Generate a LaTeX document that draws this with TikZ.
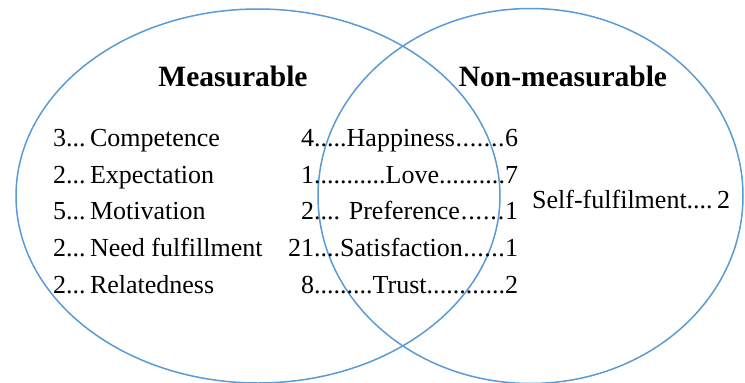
\documentclass[tikz,border=0pt]{standalone}
\usepackage{fontspec}
\setmainfont{Liberation Serif}
\definecolor{vblue}{RGB}{91,155,213}
\newcommand{\dotrow}[3]{\hbox to 204pt{\llap{#1}#2\xleaders\hbox{.}\hfill #3}}
\begin{document}
\begin{tikzpicture}[x=1pt,y=1pt,
  circ/.style={draw=vblue, line width=1.5pt},
  head/.style={font=\fontsize{29.5}{33}\selectfont\bfseries, inner sep=0pt, anchor=base},
  item/.style={font=\fontsize{26}{30}\selectfont, inner sep=0pt, anchor=base west}]
\useasboundingbox (0,0) rectangle (745,-383);
\fill[white] (0,0) rectangle (745,-383);
\draw[circ] (258,-196) ellipse [x radius=242, y radius=187];
\draw[circ] (530.5,-196) ellipse [x radius=212.5, y radius=187.5];
\node[head] (hm) at (233,-86) {Measurable};
\node[head] (hn) at (563,-86) {Non-measurable};
\node[item] (l1) at (53,-146.7) {3...\,Competence};
\node[item] (l2) at (53,-183.3) {2...\,Expectation};
\node[item] (l3) at (53,-219.9) {5...\,Motivation};
\node[item] (l4) at (53,-256.5) {2...\,Need fulfillment};
\node[item] (l5) at (53,-293.1) {2...\,Relatedness};
\node[item] (m1) at (314,-146.7) {\dotrow{4}{.....Happiness}{6}};
\node[item] (m2) at (314,-183.3) {\dotrow{1}{...........Love}{7}};
\node[item] (m3) at (314,-219.9) {\dotrow{2}{.... Preference}{1}};
\node[item] (m4) at (314,-256.5) {\dotrow{21}{....Satisfaction}{1}};
\node[item] (m5) at (314,-293.1) {\dotrow{8}{.........Trust}{2}};
\node[item] (r1) at (532,-208) {Self-fulfilment....\,2};
\end{tikzpicture}
\end{document}
